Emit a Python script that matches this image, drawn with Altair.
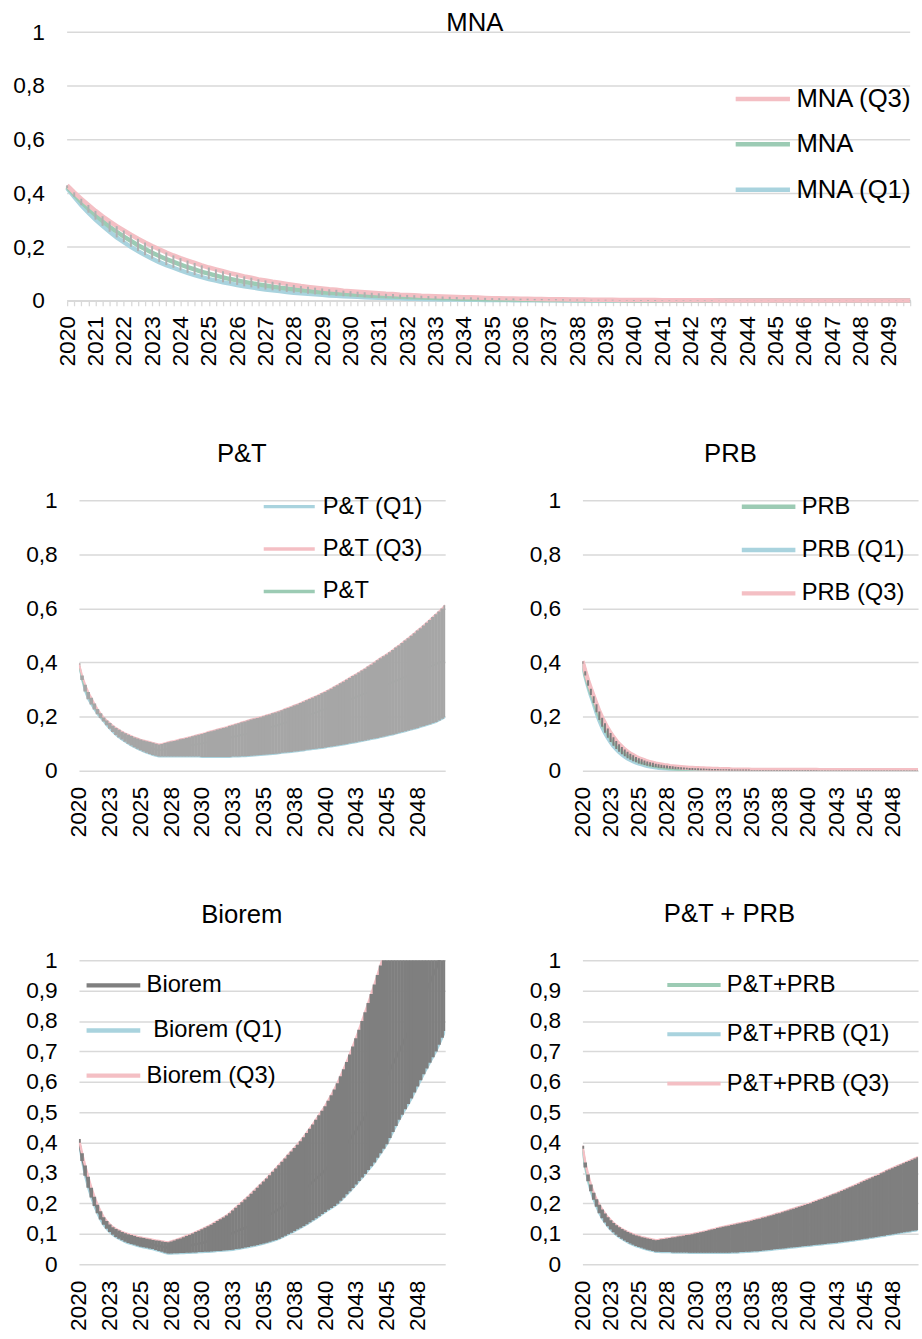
import altair as alt
import pandas as pd

FONT = "Liberation Sans"
PINK = "#f4bfc4"
GREEN = "#9ccbb4"
BLUE = "#a9d3de"
DGREY = "#7f7f7f"
GRID = "#d9d9d9"

# quarterly categories 2020.00 ... 2049.75
quarters = [2020 + q / 4 for q in range(120)]
small_tick_values = [2020, 2022.5, 2025, 2027.5, 2030, 2032.5, 2035, 2037.5, 2040, 2042.5, 2045, 2047.5]
y_ticks_02 = [0, 0.2, 0.4, 0.6, 0.8, 1]
y_ticks_01 = [0, 0.1, 0.2, 0.3, 0.4, 0.5, 0.6, 0.7, 0.8, 0.9, 1]

# ---------------- MNA ----------------
mna_q3 = [0.430, 0.404, 0.380, 0.357, 0.335, 0.315, 0.296, 0.278,
          0.262, 0.246, 0.231, 0.217, 0.204, 0.192, 0.180, 0.169,
          0.159, 0.150, 0.141, 0.132, 0.124, 0.117, 0.110, 0.103,
          0.097, 0.091, 0.086, 0.080, 0.076, 0.071, 0.067, 0.063,
          0.059, 0.055, 0.052, 0.049, 0.046, 0.043, 0.041, 0.038,
          0.036, 0.034, 0.032, 0.030, 0.028, 0.026, 0.025, 0.023,
          0.022, 0.021, 0.019, 0.018, 0.017, 0.016, 0.015, 0.014,
          0.013, 0.013, 0.012, 0.011, 0.010, 0.010, 0.009, 0.009,
          0.008, 0.008, 0.007, 0.007, 0.006, 0.006, 0.006, 0.005,
          0.005, 0.005, 0.004, 0.004, 0.004, 0.004, 0.003, 0.003,
          0.003, 0.003, 0.003, 0.003, 0.002, 0.002, 0.002, 0.002,
          0.002, 0.002, 0.002, 0.002, 0.001, 0.001, 0.001, 0.001,
          0.001, 0.001, 0.001, 0.001, 0.001, 0.001, 0.001, 0.001,
          0.001, 0.001, 0.001, 0.001, 0.001, 0.001, 0.001, 0.001,
          0.001, 0.001, 0.001, 0.001, 0.001, 0.001, 0.001, 0.001]
mna_med = [0.425, 0.396, 0.368, 0.343, 0.319, 0.297, 0.276, 0.257,
           0.239, 0.223, 0.207, 0.193, 0.179, 0.167, 0.155, 0.145,
           0.135, 0.125, 0.117, 0.108, 0.101, 0.094, 0.087, 0.081,
           0.076, 0.070, 0.066, 0.061, 0.057, 0.053, 0.049, 0.046,
           0.043, 0.040, 0.037, 0.034, 0.032, 0.030, 0.028, 0.026,
           0.024, 0.022, 0.021, 0.019, 0.018, 0.017, 0.016, 0.015,
           0.014, 0.013, 0.012, 0.011, 0.010, 0.009, 0.009, 0.008,
           0.008, 0.007, 0.007, 0.006, 0.006, 0.005, 0.005, 0.005,
           0.004, 0.004, 0.004, 0.003, 0.003, 0.003, 0.003, 0.003,
           0.002, 0.002, 0.002, 0.002, 0.002, 0.002, 0.002, 0.001,
           0.001, 0.001, 0.001, 0.001, 0.001, 0.001, 0.001, 0.001,
           0.001, 0.001, 0.001, 0.001, 0.001, 0.001, 0.001, 0.001,
           0.001, 0.001, 0.001, 0.001, 0.001, 0.001, 0.001, 0.001,
           0.001, 0.001, 0.001, 0.001, 0.001, 0.001, 0.001, 0.001,
           0.001, 0.001, 0.001, 0.001, 0.001, 0.001, 0.001, 0.001]
mna_q1 = [0.420, 0.387, 0.356, 0.328, 0.302, 0.279, 0.257, 0.236,
          0.218, 0.201, 0.185, 0.170, 0.157, 0.144, 0.133, 0.123,
          0.113, 0.104, 0.096, 0.088, 0.081, 0.075, 0.069, 0.064,
          0.059, 0.054, 0.050, 0.046, 0.042, 0.039, 0.036, 0.033,
          0.030, 0.028, 0.026, 0.024, 0.022, 0.020, 0.019, 0.017,
          0.016, 0.015, 0.013, 0.012, 0.011, 0.010, 0.010, 0.009,
          0.008, 0.008, 0.007, 0.006, 0.006, 0.005, 0.005, 0.005,
          0.004, 0.004, 0.004, 0.003, 0.003, 0.003, 0.003, 0.002,
          0.002, 0.002, 0.002, 0.002, 0.002, 0.002, 0.001, 0.001,
          0.001, 0.001, 0.001, 0.001, 0.001, 0.001, 0.001, 0.001,
          0.000, 0.000, 0.000, 0.000, 0.000, 0.000, 0.000, 0.000,
          0.000, 0.000, 0.000, 0.000, 0.000, 0.000, 0.000, 0.000,
          0.000, 0.000, 0.000, 0.000, 0.000, 0.000, 0.000, 0.000,
          0.000, 0.000, 0.000, 0.000, 0.000, 0.000, 0.000, 0.000,
          0.000, 0.000, 0.000, 0.000, 0.000, 0.000, 0.000, 0.000]

# ---------------- P&T ----------------
pt_q3 = [0.396, 0.352, 0.318, 0.291, 0.270, 0.248, 0.228, 0.212,
         0.197, 0.186, 0.176, 0.166, 0.158, 0.151, 0.144, 0.138,
         0.133, 0.128, 0.123, 0.119, 0.115, 0.112, 0.109, 0.106,
         0.103, 0.100, 0.097, 0.099, 0.102, 0.105, 0.108, 0.110,
         0.113, 0.116, 0.118, 0.121, 0.124, 0.127, 0.130, 0.133,
         0.136, 0.139, 0.143, 0.146, 0.149, 0.152, 0.155, 0.158,
         0.161, 0.165, 0.168, 0.172, 0.175, 0.179, 0.182, 0.186,
         0.189, 0.192, 0.195, 0.198, 0.201, 0.205, 0.208, 0.212,
         0.215, 0.219, 0.223, 0.228, 0.232, 0.236, 0.241, 0.245,
         0.250, 0.255, 0.260, 0.265, 0.270, 0.275, 0.280, 0.286,
         0.291, 0.297, 0.303, 0.310, 0.316, 0.323, 0.329, 0.336,
         0.343, 0.350, 0.356, 0.363, 0.370, 0.377, 0.385, 0.392,
         0.400, 0.408, 0.416, 0.423, 0.430, 0.438, 0.446, 0.455,
         0.463, 0.472, 0.481, 0.490, 0.499, 0.508, 0.518, 0.527,
         0.537, 0.547, 0.557, 0.568, 0.578, 0.589, 0.600, 0.612]
pt_med = [0.395, 0.343, 0.305, 0.277, 0.256, 0.237, 0.218, 0.203,
          0.190, 0.177, 0.165, 0.154, 0.145, 0.137, 0.130, 0.123,
          0.117, 0.111, 0.106, 0.101, 0.096, 0.092, 0.089, 0.085,
          0.082, 0.079, 0.076, 0.077, 0.079, 0.081, 0.083, 0.084,
          0.086, 0.088, 0.090, 0.091, 0.093, 0.095, 0.097, 0.099,
          0.101, 0.103, 0.106, 0.108, 0.110, 0.112, 0.115, 0.117,
          0.119, 0.122, 0.125, 0.127, 0.130, 0.133, 0.135, 0.138,
          0.141, 0.144, 0.147, 0.150, 0.153, 0.156, 0.160, 0.163,
          0.166, 0.170, 0.173, 0.177, 0.180, 0.184, 0.188, 0.191,
          0.195, 0.199, 0.203, 0.207, 0.211, 0.215, 0.220, 0.224,
          0.228, 0.232, 0.237, 0.241, 0.245, 0.250, 0.254, 0.259,
          0.263, 0.268, 0.272, 0.277, 0.281, 0.286, 0.290, 0.295,
          0.299, 0.304, 0.309, 0.313, 0.318, 0.323, 0.328, 0.332,
          0.337, 0.342, 0.347, 0.351, 0.356, 0.361, 0.366, 0.370,
          0.375, 0.380, 0.385, 0.389, 0.394, 0.399, 0.403, 0.408]
pt_q1 = [0.393, 0.335, 0.293, 0.264, 0.245, 0.226, 0.209, 0.195,
         0.182, 0.168, 0.155, 0.143, 0.132, 0.123, 0.115, 0.107,
         0.100, 0.093, 0.087, 0.081, 0.076, 0.071, 0.066, 0.062,
         0.058, 0.055, 0.052, 0.052, 0.052, 0.052, 0.052, 0.052,
         0.052, 0.052, 0.052, 0.052, 0.052, 0.052, 0.052, 0.052,
         0.051, 0.051, 0.051, 0.051, 0.051, 0.051, 0.051, 0.051,
         0.051, 0.051, 0.052, 0.052, 0.052, 0.053, 0.053, 0.054,
         0.055, 0.056, 0.057, 0.058, 0.059, 0.060, 0.061, 0.062,
         0.063, 0.064, 0.066, 0.067, 0.068, 0.069, 0.071, 0.072,
         0.074, 0.075, 0.077, 0.078, 0.080, 0.081, 0.083, 0.084,
         0.086, 0.088, 0.089, 0.091, 0.093, 0.095, 0.097, 0.099,
         0.101, 0.103, 0.105, 0.108, 0.110, 0.112, 0.114, 0.117,
         0.119, 0.121, 0.124, 0.126, 0.129, 0.132, 0.134, 0.137,
         0.140, 0.143, 0.146, 0.149, 0.152, 0.155, 0.158, 0.162,
         0.165, 0.169, 0.172, 0.176, 0.180, 0.186, 0.192, 0.198]

# ---------------- PRB ----------------
prb_q3 = [0.405, 0.368, 0.334, 0.303, 0.275, 0.246, 0.219, 0.196,
          0.175, 0.156, 0.139, 0.124, 0.110, 0.098, 0.088, 0.078,
          0.070, 0.063, 0.057, 0.051, 0.046, 0.042, 0.038, 0.034,
          0.031, 0.029, 0.026, 0.024, 0.022, 0.020, 0.019, 0.017,
          0.016, 0.015, 0.014, 0.013, 0.012, 0.011, 0.010, 0.010,
          0.009, 0.009, 0.008, 0.008, 0.007, 0.007, 0.006, 0.006,
          0.006, 0.005, 0.005, 0.005, 0.005, 0.004, 0.004, 0.004,
          0.004, 0.004, 0.004, 0.004, 0.003, 0.003, 0.003, 0.003,
          0.003, 0.003, 0.003, 0.003, 0.003, 0.003, 0.003, 0.003,
          0.003, 0.003, 0.003, 0.003, 0.003, 0.003, 0.003, 0.003,
          0.003, 0.003, 0.003, 0.003, 0.002, 0.002, 0.002, 0.002,
          0.002, 0.002, 0.002, 0.002, 0.002, 0.002, 0.002, 0.002,
          0.002, 0.002, 0.002, 0.002, 0.002, 0.002, 0.002, 0.002,
          0.002, 0.002, 0.002, 0.002, 0.002, 0.002, 0.002, 0.002,
          0.002, 0.002, 0.002, 0.002, 0.002, 0.002, 0.002, 0.002]
prb_med = [0.400, 0.360, 0.324, 0.291, 0.262, 0.231, 0.203, 0.178,
           0.157, 0.138, 0.122, 0.107, 0.094, 0.083, 0.073, 0.065,
           0.057, 0.051, 0.045, 0.040, 0.035, 0.031, 0.028, 0.025,
           0.022, 0.020, 0.018, 0.016, 0.014, 0.013, 0.011, 0.010,
           0.009, 0.008, 0.007, 0.007, 0.006, 0.005, 0.005, 0.004,
           0.004, 0.004, 0.004, 0.003, 0.003, 0.003, 0.003, 0.002,
           0.002, 0.002, 0.002, 0.002, 0.002, 0.002, 0.001, 0.001,
           0.001, 0.001, 0.001, 0.001, 0.001, 0.001, 0.001, 0.001,
           0.001, 0.001, 0.001, 0.001, 0.001, 0.001, 0.001, 0.001,
           0.001, 0.001, 0.001, 0.001, 0.001, 0.001, 0.001, 0.001,
           0.001, 0.001, 0.001, 0.001, 0.001, 0.001, 0.001, 0.001,
           0.001, 0.001, 0.001, 0.001, 0.001, 0.001, 0.001, 0.001,
           0.001, 0.001, 0.001, 0.001, 0.001, 0.001, 0.001, 0.001,
           0.001, 0.001, 0.001, 0.001, 0.001, 0.001, 0.001, 0.001,
           0.001, 0.001, 0.001, 0.001, 0.001, 0.001, 0.001, 0.001]
prb_q1 = [0.395, 0.352, 0.314, 0.280, 0.250, 0.216, 0.187, 0.162,
          0.140, 0.122, 0.106, 0.092, 0.080, 0.070, 0.061, 0.053,
          0.046, 0.040, 0.035, 0.031, 0.027, 0.024, 0.021, 0.018,
          0.016, 0.014, 0.013, 0.011, 0.010, 0.009, 0.008, 0.007,
          0.006, 0.005, 0.005, 0.004, 0.004, 0.004, 0.003, 0.003,
          0.003, 0.002, 0.002, 0.002, 0.002, 0.001, 0.001, 0.001,
          0.001, 0.001, 0.001, 0.001, 0.000, 0.000, 0.000, 0.000,
          0.000, 0.000, 0.000, 0.000, 0.000, 0.000, 0.000, 0.000,
          0.000, 0.000, 0.000, 0.000, 0.000, 0.000, 0.000, 0.000,
          0.000, 0.000, 0.000, 0.000, 0.000, 0.000, 0.000, 0.000,
          0.000, 0.000, 0.000, 0.000, 0.000, 0.000, 0.000, 0.000,
          0.000, 0.000, 0.000, 0.000, 0.000, 0.000, 0.000, 0.000,
          0.000, 0.000, 0.000, 0.000, 0.000, 0.000, 0.000, 0.000,
          0.000, 0.000, 0.000, 0.000, 0.000, 0.000, 0.000, 0.000,
          0.000, 0.000, 0.000, 0.000, 0.000, 0.000, 0.000, 0.000]

# ---------------- Biorem ----------------
bio_q3 = [0.412, 0.365, 0.325, 0.288, 0.252, 0.222, 0.196, 0.174,
          0.155, 0.142, 0.131, 0.122, 0.116, 0.111, 0.106, 0.102,
          0.099, 0.096, 0.093, 0.090, 0.088, 0.086, 0.084, 0.082,
          0.080, 0.078, 0.077, 0.075, 0.073, 0.072, 0.075, 0.078,
          0.082, 0.085, 0.089, 0.093, 0.097, 0.101, 0.106, 0.110,
          0.115, 0.120, 0.125, 0.130, 0.136, 0.142, 0.148, 0.154,
          0.160, 0.168, 0.177, 0.186, 0.195, 0.204, 0.213, 0.222,
          0.232, 0.242, 0.252, 0.262, 0.272, 0.282, 0.293, 0.304,
          0.315, 0.326, 0.337, 0.348, 0.360, 0.371, 0.382, 0.393,
          0.405, 0.418, 0.432, 0.446, 0.460, 0.475, 0.490, 0.505,
          0.520, 0.538, 0.556, 0.575, 0.595, 0.618, 0.641, 0.665,
          0.690, 0.716, 0.743, 0.771, 0.800, 0.829, 0.859, 0.889,
          0.920, 0.951, 0.983, 1.016, 1.050, 1.085, 1.122, 1.160,
          1.200, 1.240, 1.280, 1.320, 1.370, 1.410, 1.460, 1.510,
          1.560, 1.610, 1.660, 1.710, 1.770, 1.830, 1.890, 1.950]
bio_med = [0.406, 0.352, 0.308, 0.270, 0.236, 0.207, 0.182, 0.160,
           0.142, 0.129, 0.118, 0.109, 0.103, 0.097, 0.092, 0.088,
           0.084, 0.081, 0.078, 0.075, 0.073, 0.071, 0.069, 0.067,
           0.065, 0.062, 0.060, 0.058, 0.056, 0.054, 0.054, 0.055,
           0.055, 0.057, 0.058, 0.060, 0.062, 0.064, 0.066, 0.068,
           0.070, 0.073, 0.076, 0.079, 0.082, 0.085, 0.088, 0.091,
           0.095, 0.099, 0.103, 0.107, 0.112, 0.116, 0.120, 0.125,
           0.130, 0.135, 0.141, 0.146, 0.152, 0.157, 0.163, 0.169,
           0.175, 0.182, 0.189, 0.196, 0.204, 0.211, 0.219, 0.227,
           0.235, 0.244, 0.253, 0.262, 0.272, 0.281, 0.291, 0.300,
           0.310, 0.322, 0.334, 0.346, 0.358, 0.370, 0.383, 0.396,
           0.410, 0.425, 0.440, 0.455, 0.472, 0.488, 0.505, 0.522,
           0.540, 0.559, 0.578, 0.598, 0.618, 0.638, 0.658, 0.679,
           0.700, 0.721, 0.743, 0.765, 0.787, 0.810, 0.833, 0.857,
           0.880, 0.903, 0.926, 0.949, 0.972, 0.998, 1.024, 1.050]
bio_q1 = [0.400, 0.340, 0.291, 0.252, 0.220, 0.192, 0.168, 0.147,
          0.130, 0.117, 0.106, 0.097, 0.090, 0.084, 0.079, 0.074,
          0.070, 0.067, 0.064, 0.061, 0.058, 0.056, 0.054, 0.052,
          0.050, 0.047, 0.044, 0.041, 0.038, 0.035, 0.035, 0.036,
          0.036, 0.037, 0.037, 0.038, 0.038, 0.039, 0.039, 0.040,
          0.040, 0.041, 0.041, 0.042, 0.043, 0.044, 0.044, 0.045,
          0.046, 0.047, 0.048, 0.050, 0.051, 0.053, 0.055, 0.057,
          0.059, 0.061, 0.063, 0.066, 0.068, 0.071, 0.074, 0.077,
          0.080, 0.084, 0.089, 0.094, 0.099, 0.104, 0.109, 0.115,
          0.120, 0.126, 0.132, 0.138, 0.145, 0.151, 0.158, 0.165,
          0.172, 0.179, 0.185, 0.192, 0.199, 0.209, 0.219, 0.230,
          0.240, 0.251, 0.262, 0.274, 0.285, 0.297, 0.310, 0.322,
          0.335, 0.350, 0.365, 0.380, 0.395, 0.415, 0.435, 0.455,
          0.475, 0.492, 0.510, 0.527, 0.545, 0.565, 0.585, 0.605,
          0.625, 0.644, 0.663, 0.681, 0.700, 0.722, 0.745, 0.767]

# ---------------- P&T + PRB ----------------
ptprb_q3 = [0.390, 0.335, 0.295, 0.262, 0.235, 0.214, 0.196, 0.180,
            0.167, 0.155, 0.145, 0.136, 0.128, 0.122, 0.116, 0.111,
            0.106, 0.102, 0.098, 0.095, 0.092, 0.089, 0.087, 0.085,
            0.083, 0.081, 0.079, 0.080, 0.082, 0.083, 0.085, 0.086,
            0.088, 0.089, 0.091, 0.092, 0.094, 0.096, 0.097, 0.099,
            0.101, 0.103, 0.105, 0.107, 0.109, 0.112, 0.114, 0.116,
            0.119, 0.121, 0.123, 0.125, 0.127, 0.129, 0.131, 0.133,
            0.135, 0.137, 0.139, 0.141, 0.143, 0.146, 0.148, 0.150,
            0.153, 0.155, 0.158, 0.160, 0.163, 0.166, 0.168, 0.171,
            0.174, 0.177, 0.180, 0.183, 0.186, 0.189, 0.192, 0.195,
            0.198, 0.201, 0.205, 0.208, 0.212, 0.215, 0.219, 0.222,
            0.226, 0.230, 0.233, 0.237, 0.241, 0.245, 0.249, 0.253,
            0.257, 0.261, 0.265, 0.270, 0.274, 0.278, 0.282, 0.286,
            0.290, 0.294, 0.299, 0.303, 0.308, 0.312, 0.316, 0.320,
            0.324, 0.328, 0.332, 0.336, 0.340, 0.344, 0.348, 0.352]
ptprb_med = [0.385, 0.326, 0.284, 0.251, 0.224, 0.202, 0.182, 0.166,
             0.152, 0.140, 0.130, 0.120, 0.112, 0.106, 0.100, 0.094,
             0.089, 0.085, 0.081, 0.077, 0.074, 0.071, 0.069, 0.066,
             0.064, 0.062, 0.060, 0.060, 0.061, 0.061, 0.062, 0.063,
             0.063, 0.064, 0.065, 0.065, 0.066, 0.067, 0.068, 0.068,
             0.069, 0.070, 0.071, 0.072, 0.073, 0.074, 0.075, 0.076,
             0.077, 0.078, 0.079, 0.080, 0.082, 0.083, 0.084, 0.085,
             0.087, 0.088, 0.090, 0.091, 0.092, 0.094, 0.095, 0.097,
             0.099, 0.100, 0.102, 0.104, 0.106, 0.107, 0.109, 0.111,
             0.113, 0.115, 0.117, 0.119, 0.121, 0.123, 0.125, 0.127,
             0.129, 0.131, 0.134, 0.136, 0.138, 0.140, 0.143, 0.145,
             0.147, 0.150, 0.152, 0.154, 0.157, 0.159, 0.162, 0.164,
             0.167, 0.170, 0.172, 0.175, 0.178, 0.181, 0.184, 0.186,
             0.189, 0.192, 0.195, 0.198, 0.201, 0.204, 0.207, 0.210,
             0.213, 0.216, 0.219, 0.222, 0.225, 0.228, 0.231, 0.234]
ptprb_q1 = [0.380, 0.318, 0.273, 0.240, 0.212, 0.189, 0.168, 0.151,
            0.137, 0.125, 0.114, 0.105, 0.097, 0.090, 0.084, 0.078,
            0.073, 0.068, 0.064, 0.060, 0.057, 0.054, 0.051, 0.048,
            0.046, 0.044, 0.041, 0.041, 0.040, 0.040, 0.040, 0.040,
            0.039, 0.039, 0.039, 0.039, 0.039, 0.039, 0.038, 0.038,
            0.038, 0.038, 0.038, 0.038, 0.038, 0.038, 0.038, 0.038,
            0.038, 0.038, 0.038, 0.038, 0.038, 0.039, 0.039, 0.039,
            0.040, 0.040, 0.041, 0.041, 0.042, 0.043, 0.043, 0.044,
            0.045, 0.046, 0.047, 0.048, 0.049, 0.050, 0.051, 0.052,
            0.053, 0.054, 0.055, 0.056, 0.057, 0.058, 0.059, 0.060,
            0.061, 0.062, 0.063, 0.064, 0.065, 0.066, 0.067, 0.068,
            0.069, 0.070, 0.071, 0.072, 0.073, 0.075, 0.076, 0.077,
            0.078, 0.080, 0.081, 0.082, 0.084, 0.085, 0.087, 0.088,
            0.090, 0.091, 0.093, 0.094, 0.096, 0.097, 0.099, 0.100,
            0.102, 0.104, 0.105, 0.107, 0.108, 0.110, 0.111, 0.113]

for _name, _arr in list(globals().items()):
    if _name.endswith(("_q1", "_q3", "_med")) and isinstance(_arr, list):
        if len(_arr) != 120:
            raise ValueError(f"{_name} has {len(_arr)} values")

Y_LABEL_EXPR = "replace(format(datum.value, '~g'), '.', ',')"


def make_panel(title, tdx, toff, width, height, names, order, colors,
               q1, med, q3, line_w, rule_color, rule_w, yvals,
               lx, ly, rowpad, symsize, symw, loff, lfont, mna=False):
    long = pd.DataFrame({
        "t": quarters * 3,
        "series": [names[0]] * 120 + [names[1]] * 120 + [names[2]] * 120,
        "value": list(q1) + list(med) + list(q3),
    })
    band = pd.DataFrame({"t": quarters, "lo": q1, "hi": q3})

    if mna:
        xscale = alt.Scale(domain=[2020, 2049.75], range=[-12, width], nice=False, zero=False)
        xaxis = alt.Axis(values=quarters,
                         labelExpr="floor(datum.value) == datum.value ? '' + datum.value : ''",
                         labelAngle=270, labelFontSize=23, labelFont=FONT, labelColor="black",
                         labelPadding=10, ticks=True, tickSize=5, tickColor=GRID, tickWidth=1.3,
                         domain=True, domainColor=GRID, domainWidth=1.5, grid=False,
                         labelOverlap=False, labelFlush=False, title=None)
        yaxis = alt.Axis(values=yvals, labelExpr=Y_LABEL_EXPR, labelFontSize=23, labelFont=FONT,
                         labelColor="black", labelPadding=23, ticks=False, tickSize=0,
                         domain=False, grid=False, offset=12, labelFlush=False,
                         labelOverlap=False, title=None)
    else:
        xscale = alt.Scale(domain=[2020, 2049.75], nice=False, zero=False)
        xaxis = alt.Axis(values=small_tick_values, labelExpr="'' + round(datum.value)",
                         labelAngle=270, labelFontSize=23, labelFont=FONT, labelColor="black",
                         labelPadding=16, ticks=False, tickSize=0, domain=False, grid=False,
                         labelOverlap=False, labelFlush=False, title=None)
        yaxis = alt.Axis(values=yvals, labelExpr=Y_LABEL_EXPR, labelFontSize=23, labelFont=FONT,
                         labelColor="black", labelPadding=22, ticks=False, tickSize=0,
                         domain=False, grid=True, gridColor=GRID, gridWidth=1.5,
                         labelFlush=False, labelOverlap=False, title=None)
    yscale = alt.Scale(domain=[0, 1], nice=False, zero=True)

    legend = alt.Legend(orient="none", legendX=lx, legendY=ly, title=None, direction="vertical",
                        symbolType="M-2,0H2", symbolSize=symsize, symbolStrokeWidth=symw,
                        labelFontSize=lfont, labelFont=FONT, labelColor="black",
                        labelLimit=400, labelOffset=loff, rowPadding=rowpad, padding=0)

    lines = alt.Chart(long).mark_line(strokeWidth=line_w, clip=not mna).encode(
        x=alt.X("t:Q", scale=xscale, axis=xaxis),
        y=alt.Y("value:Q", scale=yscale, axis=yaxis),
        color=alt.Color("series:N", scale=alt.Scale(domain=order, range=colors), legend=legend),
    )
    rules = alt.Chart(band).mark_rule(color=rule_color, strokeWidth=rule_w, clip=not mna).encode(
        x=alt.X("t:Q", scale=xscale, axis=xaxis),
        y=alt.Y("lo:Q", scale=yscale, axis=yaxis),
        y2="hi:Q",
    )
    layers = [lines, rules]
    if mna:
        grid_df = pd.DataFrame({"g": yvals})
        grid = alt.Chart(grid_df).mark_rule(color=GRID, strokeWidth=1.5).encode(
            y=alt.Y("g:Q", scale=yscale, axis=yaxis),
            x=alt.X(datum=2020, scale=xscale, axis=xaxis),
            x2=alt.datum(2049.75),
        )
        layers = [grid, lines, rules]

    return alt.layer(*layers).properties(
        width=width, height=height,
        title=alt.TitleParams(text=title, anchor="middle", frame="group", baseline="alphabetic",
                              offset=toff, dx=tdx, fontSize=26, font=FONT,
                              fontWeight="normal", color="black"),
    )


mna = make_panel("MNA", -20, -36, 842, 272,
                 ["MNA (Q1)", "MNA", "MNA (Q3)"],
                 ["MNA (Q3)", "MNA", "MNA (Q1)"], [PINK, GREEN, BLUE],
                 mna_q1, mna_med, mna_q3, 4.5, "#b0b0b0", 2, y_ticks_02,
                 676.75, 51.5, 17, 756, 4.5, 18, 26, mna=True)

pt = make_panel("P&T", -20.5, 2, 371, 274,
                ["P&T (Q1)", "P&T", "P&T (Q3)"],
                ["P&T (Q1)", "P&T (Q3)", "P&T"], [BLUE, PINK, GREEN],
                pt_q1, pt_med, pt_q3, 2, "#a6a6a6", 3.6, y_ticks_02,
                198, -8.5, 16, 668, 3.5, 19, 24)

prb = make_panel("PRB", -20, 2, 340, 274,
                 ["PRB (Q1)", "PRB", "PRB (Q3)"],
                 ["PRB", "PRB (Q1)", "PRB (Q3)"], [GREEN, BLUE, PINK],
                 prb_q1, prb_med, prb_q3, 4.5, DGREY, 2, y_ticks_02,
                 172.6, -9.4, 15.9, 737, 4.5, 17.5, 24)

bio = make_panel("Biorem", -20.5, 1, 371, 308,
                 ["\u200b\u00a0Biorem (Q1)", "Biorem", "Biorem (Q3)"],
                 ["Biorem", "\u200b\u00a0Biorem (Q1)", "Biorem (Q3)"], [DGREY, BLUE, PINK],
                 bio_q1, bio_med, bio_q3, 2.5, DGREY, 3.6, y_ticks_01,
                 18.9, 9.5, 17.7, 740, 4.5, 17.6, 24)

ptprb = make_panel("P&T + PRB", -21, 1.5, 340, 308,
                   ["P&T+PRB (Q1)", "P&T+PRB", "P&T+PRB (Q3)"],
                   ["P&T+PRB", "P&T+PRB (Q1)", "P&T+PRB (Q3)"], [GREEN, BLUE, PINK],
                   ptprb_q1, ptprb_med, ptprb_q3, 2.5, DGREY, 3.6, y_ticks_01,
                   97.5, 9.5, 22, 729, 4, 17.8, 24)


def indep(c):
    return c.resolve_scale(color="independent", x="independent", y="independent").resolve_legend(
        color="independent")


row2 = indep(alt.hconcat(pt, prb, spacing=85))
row3 = indep(alt.hconcat(bio, ptprb, spacing=85))
lower = indep(alt.vconcat(row2, row3, spacing=64))
chart = indep(alt.vconcat(mna, lower, spacing=75)).properties(
    padding={"left": 13, "top": 2, "right": 0, "bottom": 0},
    background="white",
).configure_view(stroke=None)

chart.save("out.html", embed_options={"renderer": "svg", "actions": False})
